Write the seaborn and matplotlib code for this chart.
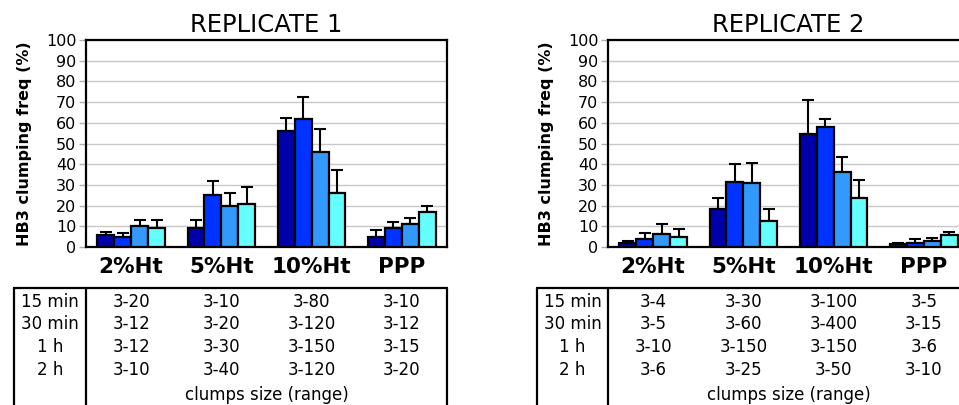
import matplotlib
matplotlib.use("Agg")
import matplotlib.pyplot as plt
import matplotlib.transforms as mtrans
from matplotlib.lines import Line2D
import seaborn as sns
import numpy as np
import pandas as pd

sns.set_style("white")
plt.rcParams["font.family"] = ["DejaVu Sans"]
plt.rcParams["text.color"] = "black"
plt.rcParams["axes.labelcolor"] = "black"
plt.rcParams["xtick.color"] = "black"
plt.rcParams["ytick.color"] = "black"

groups = ["2%Ht", "5%Ht", "10%Ht", "PPP"]
times = ["15 min", "30 min", "1 h", "2 h"]
colors = ["#0000AA", "#0033FF", "#3399FF", "#66FFFF"]

# rows = time points, columns = groups
rep1_mean = [[6, 9, 56, 5],
             [5, 25, 62, 9],
             [10, 20, 46, 11],
             [9, 21, 26, 17]]
rep1_err = [[1.2, 4, 6.5, 3],
            [2, 7, 10.5, 3.3],
            [3, 6, 11, 3.2],
            [4, 8, 11, 3]]
rep2_mean = [[1.8, 18.2, 54.8, 1.5],
             [3.7, 31.2, 57.9, 1.8],
             [6.3, 30.9, 36.3, 3],
             [5, 12.7, 23.5, 5.6]]
rep2_err = [[1.2, 5.3, 16, 0.5],
            [3.3, 8.8, 4.1, 2.1],
            [4.7, 9.9, 7.1, 1.2],
            [3.8, 5.8, 9, 1.6]]

rep1_sizes = [["3-20", "3-10", "3-80", "3-10"],
              ["3-12", "3-20", "3-120", "3-12"],
              ["3-12", "3-30", "3-150", "3-15"],
              ["3-10", "3-40", "3-120", "3-20"]]
rep2_sizes = [["3-4", "3-30", "3-100", "3-5"],
              ["3-5", "3-60", "3-400", "3-15"],
              ["3-10", "3-150", "3-150", "3-6"],
              ["3-6", "3-25", "3-50", "3-10"]]

W, H = 959, 405
fig = plt.figure(figsize=(W / 100, H / 100), dpi=100)


def panel(left_px, title, means, errs, sizes, box_left_px):
    ax = fig.add_axes([left_px / W, (H - 247) / H, 361 / W, 207 / H])
    rows = []
    for ti, t in enumerate(times):
        for gi, g in enumerate(groups):
            rows.append({"group": g, "time": t, "val": means[ti][gi], "err": errs[ti][gi]})
    df = pd.DataFrame(rows)
    sns.barplot(data=df, x="group", y="val", hue="time", order=groups, hue_order=times,
                palette=colors, saturation=1, width=0.75, edgecolor="black", linewidth=1.6,
                errorbar=None, legend=False, ax=ax, zorder=3)
    # one sided error bars; patches come hue by hue, same order as df rows
    for p, (_, r) in zip(ax.patches, df.iterrows()):
        xc = p.get_x() + p.get_width() / 2
        ax.errorbar(xc, p.get_height(), yerr=[[0], [r["err"]]], fmt="none",
                    ecolor="black", elinewidth=1.5, capsize=4, capthick=1.5, zorder=2)
    ax.set_xlim(-0.5, 3.5)
    ax.set_ylim(0, 100)
    ax.set_yticks(range(0, 101, 10))
    ax.yaxis.grid(True, color="#C8C8C8", linewidth=1)
    ax.set_axisbelow(True)
    for s in ax.spines.values():
        s.set_color("black")
        s.set_linewidth(1.6)
        s.set_visible(True)
    ax.tick_params(axis="y", length=5, color="#B0B0B0", width=1, labelsize=11.5, pad=2, left=True)
    ax.tick_params(axis="x", length=0, pad=7)
    for lab in ax.get_xticklabels():
        lab.set_fontsize(15.5)
        lab.set_fontweight("bold")
    ax.set_xlabel("")
    ax.set_ylabel("HB3 clumping freq (%)", fontsize=11.5, fontweight="bold", labelpad=10)
    ax.set_title(title, fontsize=17.5, pad=6)

    # table below the chart
    tr = mtrans.blended_transform_factory(ax.transData, fig.transFigure)
    fy = lambda py: (H - py) / H
    fx = lambda px: px / W
    top, bot = fy(288), fy(410)
    ax_right = (left_px + 361) / W
    for x in [fx(box_left_px), fx(left_px), ax_right]:
        fig.add_artist(Line2D([x, x], [bot, top], color="black", linewidth=1.6))
    fig.add_artist(Line2D([fx(box_left_px), ax_right], [top, top], color="black", linewidth=1.6))
    row_y = [302, 324, 347, 370]
    for ti, t in enumerate(times):
        fig.text(fx((box_left_px + left_px) / 2), fy(row_y[ti]), t, ha="center", va="center", fontsize=12)
        for gi in range(len(groups)):
            ax.text(gi, fy(row_y[ti]), sizes[ti][gi], transform=tr, ha="center", va="center",
                    fontsize=12, clip_on=False)
    ax.text(1.5, fy(395), "clumps size (range)", transform=tr, ha="center", va="center",
            fontsize=12, clip_on=False)
    return ax


panel(86, "REPLICATE 1", rep1_mean, rep1_err, rep1_sizes, 14)
panel(608, "REPLICATE 2", rep2_mean, rep2_err, rep2_sizes, 537)

fig.savefig("out.png", dpi=100)
